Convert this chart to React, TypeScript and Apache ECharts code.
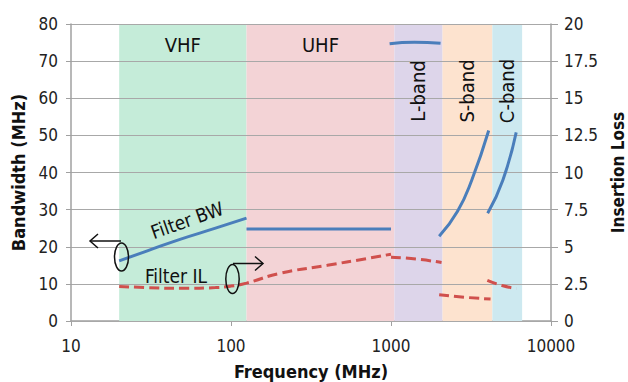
import React, { useEffect, useRef } from "react";
import * as echarts from "echarts";

// Frequency bands (MHz)
const bandNames = ["VHF", "UHF", "L-band", "S-band", "C-band"];
const bandStart = [20, 125, 1050, 2100, 4300];
const bandEnd = [125, 1050, 2100, 4300, 6600];
const bandColors = ["#c5ecd9", "#f3d3d6", "#ddd5ea", "#fde3cf", "#cde9f0"];
const bandRotated = [false, false, true, true, true];

// Filter bandwidth (MHz), left axis
const bwVhfF = [20, 30, 48, 80, 125];
const bwVhf = [16.2, 18.9, 22.0, 25.0, 27.7];
const bwUhfF = [125, 1000];
const bwUhf = [24.8, 24.8];
const bwLF = [980, 1400, 2040];
const bwL = [74.7, 75.1, 74.8];
const bwSF = [2000, 2600, 3200, 4080];
const bwS = [22.8, 29.5, 38.0, 51.3];
const bwCF = [4020, 5000, 6060];
const bwC = [29.0, 37.9, 50.8];

// Filter insertion loss (dB), right axis
const ilVuF = [20, 30, 50, 80, 100, 125, 200, 400, 700, 1000];
const ilVu = [2.33, 2.25, 2.2, 2.25, 2.35, 2.55, 3.2, 3.75, 4.2, 4.5];
const ilLF = [1000, 1440, 2070];
const ilL = [4.3, 4.17, 3.94];
const ilSF = [2000, 2950, 4190];
const ilS = [1.77, 1.59, 1.48];
const ilCF = [4000, 5010, 6080];
const ilC = [2.73, 2.37, 2.19];

const FONT = "DejaVu Sans Condensed, DejaVu Sans, sans-serif";
const BLUE = "#4a7ebb";
const RED = "#d0504d";

const zip = (xs: number[], ys: number[]) => xs.map((x, i) => [x, ys[i]]);

export default function App() {
  const ref = useRef<HTMLDivElement>(null);
  useEffect(() => {
    document.body.style.margin = "0";
    document.body.style.overflow = "hidden";
    document.documentElement.style.overflow = "hidden";
    const chart = echarts.init(ref.current!, undefined, { renderer: "svg", width: 628, height: 382 });
    const bwSeries = (xs: number[], ys: number[]) => ({
      type: "line",
      yAxisIndex: 0,
      data: zip(xs, ys),
      smooth: true,
      showSymbol: false,
      z: 5,
      lineStyle: { color: BLUE, width: 3 },
    });
    const ilSeries = (xs: number[], ys: number[]) => ({
      type: "line",
      yAxisIndex: 1,
      data: zip(xs, ys),
      smooth: true,
      showSymbol: false,
      z: 5,
      lineStyle: { color: RED, width: 3, type: [10, 5] },
    });
    chart.setOption({
      animation: false,
      backgroundColor: "#ffffff",
      grid: { left: 71, right: 77, top: 24, bottom: 61, outerBoundsMode: "none", containLabel: false },
      xAxis: {
        type: "log",
        logBase: 10,
        min: 10,
        max: 10000,
        name: "Frequency (MHz)",
        nameLocation: "middle",
        nameGap: 41,
        nameTextStyle: { fontFamily: FONT, fontSize: 18, fontWeight: "bold", color: "#111" },
        axisLine: { lineStyle: { color: "#a0a0a0", width: 1.5 } },
        axisTick: { show: true, length: 5, lineStyle: { color: "#a0a0a0" } },
        minorTick: { show: false },
        splitLine: { show: false },
        axisLabel: {
          fontFamily: FONT,
          fontSize: 17,
          color: "#222",
          margin: 16,
          formatter: (v: number) => String(Math.round(v)),
        },
      },
      yAxis: [
        {
          type: "value",
          min: 0,
          max: 80,
          interval: 10,
          z: 3,
          name: "Bandwidth (MHz)",
          nameLocation: "middle",
          nameGap: 42,
          nameTextStyle: { fontFamily: FONT, fontSize: 18, fontWeight: "bold", color: "#111" },
          axisLine: { show: true, lineStyle: { color: "#a0a0a0", width: 1.5 } },
          axisTick: { show: true, length: 5, lineStyle: { color: "#a0a0a0" } },
          splitLine: { show: true, lineStyle: { color: "#a8a8a8", width: 1.2 } },
          axisLabel: { fontFamily: FONT, fontSize: 17, color: "#222", margin: 13 },
        },
        {
          type: "value",
          min: 0,
          max: 20,
          interval: 2.5,
          z: 3,
          name: "Insertion Loss",
          nameLocation: "middle",
          nameGap: 58,
          nameRotate: 90,
          nameTextStyle: { fontFamily: FONT, fontSize: 17, fontWeight: "bold", color: "#111" },
          axisLine: { show: true, lineStyle: { color: "#a0a0a0", width: 1.5 } },
          axisTick: { show: true, length: 7, lineStyle: { color: "#a0a0a0" } },
          splitLine: { show: false },
          axisLabel: { fontFamily: FONT, fontSize: 17, color: "#222", margin: 13 },
        },
      ],
      series: [
        {
          type: "line",
          data: [],
          z: 1,
          markArea: {
            silent: true,
            z: 1,
            data: bandNames.map((n, i) => [
              { xAxis: bandStart[i], itemStyle: { color: bandColors[i], opacity: 1 } },
              { xAxis: bandEnd[i] },
            ]),
          },
        },
        bwSeries(bwVhfF, bwVhf),
        bwSeries(bwUhfF, bwUhf),
        bwSeries(bwLF, bwL),
        bwSeries(bwSF, bwS),
        bwSeries(bwCF, bwC),
        ilSeries(ilVuF, ilVu),
        ilSeries(ilLF, ilL),
        ilSeries(ilSF, ilS),
        ilSeries(ilCF, ilC),
      ],
    });

    const px = (v: number) => chart.convertToPixel({ xAxisIndex: 0 }, v) as number;
    const bandLabels = bandNames.map((n, i) => {
      const cx = px(Math.sqrt(bandStart[i] * bandEnd[i]));
      const rot = bandRotated[i];
      return {
        type: "text",
        x: cx,
        y: rot ? 91 : 45,
        rotation: rot ? Math.PI / 2 : 0,
        z: 10,
        style: {
          text: n,
          fontFamily: FONT,
          fontSize: 20,
          fill: "#111",
          align: "center",
          verticalAlign: "middle",
        },
      };
    });
    const stroke = { stroke: "#111", lineWidth: 1.5, fill: "none" };
    chart.setOption({
      graphic: [
        ...bandLabels,
        {
          type: "text",
          x: 187,
          y: 220,
          rotation: 0.34,
          z: 10,
          style: { text: "Filter BW", fontFamily: FONT, fontSize: 19, fill: "#111", align: "center", verticalAlign: "middle" },
        },
        {
          type: "text",
          x: 176,
          y: 276,
          z: 10,
          style: { text: "Filter IL", fontFamily: FONT, fontSize: 19, fill: "#111", align: "center", verticalAlign: "middle" },
        },
        { type: "ellipse", z: 10, shape: { cx: 121.5, cy: 257, rx: 7, ry: 14 }, style: stroke },
        { type: "polyline", z: 10, shape: { points: [[121, 241], [90, 241]] }, style: stroke },
        { type: "polyline", z: 10, shape: { points: [[98, 234], [90, 241], [98, 248]] }, style: stroke },
        { type: "ellipse", z: 10, shape: { cx: 232.5, cy: 279, rx: 6.7, ry: 14.5 }, style: stroke },
        { type: "polyline", z: 10, shape: { points: [[233, 263.5], [263, 263.5]] }, style: stroke },
        { type: "polyline", z: 10, shape: { points: [[255, 256.5], [263, 263.5], [255, 270.5]] }, style: stroke },
      ],
    });
    return () => chart.dispose();
  }, []);
  return <div ref={ref} style={{ position: "fixed", left: 0, top: 0, width: 628, height: 382 }} />;
}
